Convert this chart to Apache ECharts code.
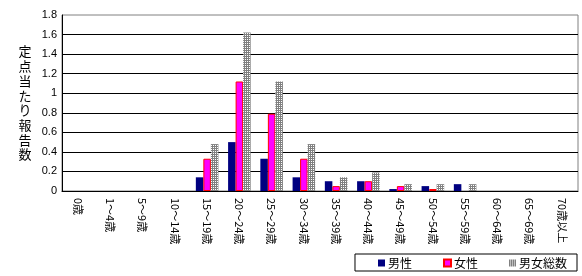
<!DOCTYPE html>
<html><head><meta charset="utf-8">
<script src="https://cdn.jsdelivr.net/npm/echarts@6/dist/echarts.min.js"></script>
<style>html,body{margin:0;padding:0;background:#fff}#c{width:582px;height:276px}</style>
</head><body><div id="c"></div>
<script>
const categories = ['0歳','1～4歳','5～9歳','10～14歳','15～19歳','20～24歳','25～29歳','30～34歳','35～39歳','40～44歳','45～49歳','50～54歳','55～59歳','60～64歳','65～69歳','70歳以上'];
const male   = [0,0,0,0,0.14,0.50,0.33,0.14,0.10,0.10,0.02,0.05,0.07,0,0,0];
const female = [0,0,0,0,0.33,1.12,0.79,0.33,0.05,0.10,0.05,0.02,0,0,0,0];
const total  = [0,0,0,0,0.48,1.62,1.12,0.48,0.14,0.19,0.07,0.07,0.07,0,0,0];
const seriesNames = ['男性','女性','男女総数'];
const yTitle = '定点当たり報告数';

const pc = document.createElement('canvas');
pc.width = 2; pc.height = 2;
const px = pc.getContext('2d');
px.fillStyle = '#808080'; px.fillRect(0,0,2,2);
px.fillStyle = '#ffffff'; px.fillRect(1,1,1,1);

const font = "'Noto Sans CJK JP', sans-serif";
const chart = echarts.init(document.getElementById('c'), null, {renderer:'canvas'});
const toNull = a => a.map(v => v === 0 ? null : v);
chart.setOption({
  animation: false,
  backgroundColor: '#fff',
  textStyle: {fontFamily: font},
  grid: {left: 62, right: 4, top: 15, bottom: 85, show: true, borderColor: '#808080', borderWidth: 1, containLabel: false},
  legend: {
    right: 5, bottom: 5, orient: 'horizontal', icon: 'rect',
    borderColor: '#000', borderWidth: 1, padding: [2, 10, 1, 23],
    itemWidth: 7, itemHeight: 7, itemGap: 31,
    textStyle: {fontFamily: font, fontSize: 12, lineHeight: 14, color: '#000', padding: [0,0,0,-2]},
    data: seriesNames
  },
  xAxis: {
    type: 'category', data: categories,
    axisLine: {lineStyle: {color: '#000', width: 1}},
    axisTick: {inside: true, length: 4, lineStyle: {color: '#000'}},
    axisLabel: {rotate: -90, fontFamily: font, fontSize: 11, color: '#000', margin: 7, interval: 0}
  },
  yAxis: {
    type: 'value', min: 0, max: 1.8, interval: 0.2,
    name: yTitle.split('').join('\n'), nameLocation: 'middle', nameRotate: 0, nameGap: 37,
    nameTextStyle: {fontFamily: font, fontSize: 13, lineHeight: 14.7, color: '#000', align: 'center', verticalAlign: 'middle'},
    axisLine: {show: true, lineStyle: {color: '#000', width: 1}},
    axisTick: {show: false},
    axisLabel: {fontFamily: "Arial, 'Liberation Sans', sans-serif", fontSize: 11, color: '#000', margin: 5},
    splitLine: {show: true, showMaxLine: false, lineStyle: {color: '#000', width: 1}}
  },
  series: [
    {name: seriesNames[0], type: 'bar', data: toNull(male), barGap: '0%', barCategoryGap: '30%',
     itemStyle: {color: '#000080'}},
    {name: seriesNames[1], type: 'bar', data: toNull(female), barGap: '0%', barCategoryGap: '30%',
     itemStyle: {color: '#ff00ff', borderColor: '#ff0000', borderWidth: 1}},
    {name: seriesNames[2], type: 'bar', data: toNull(total), barGap: '0%', barCategoryGap: '30%',
     itemStyle: {color: {image: pc, repeat: 'repeat'}}}
  ]
});
</script></body></html>
